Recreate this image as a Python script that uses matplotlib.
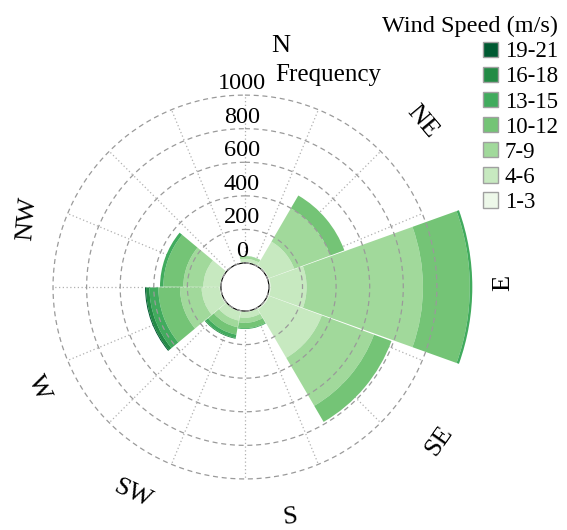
import numpy as np
import matplotlib.pyplot as plt
import matplotlib.transforms as mtransforms
from matplotlib.patches import Patch

plt.rcParams['font.family'] = ['Liberation Serif', 'DejaVu Serif']

# wind directions (9 bins of 40 deg, the last one empty) and speed classes
directions = ['N', 'NE', 'E', 'SE', 'S', 'SW', 'W', 'NW']
speed_classes = ['1-3', '4-6', '7-9', '10-12', '13-15', '16-18', '19-21']
colors = ['#edf8e9', '#c7e9c0', '#a1d99b', '#74c476', '#41ab5d', '#238b45', '#005a32']

# frequency per direction for each speed class
freq_1_3 = [5, 8, 10, 10, 5, 5, 8, 6]
freq_4_6 = [20, 162, 214, 335, 35, 55, 107, 99]
freq_7_9 = [15, 230, 693, 331, 30, 40, 129, 119]
freq_10_12 = [2, 88, 279, 111, 32, 45, 129, 119]
freq_13_15 = [0, 0, 15, 0, 5, 20, 53, 20]
freq_16_18 = [0, 0, 0, 0, 0, 5, 20, 0]
freq_19_21 = [0, 0, 0, 0, 0, 0, 6, 0]
freqs = [freq_1_3, freq_4_6, freq_7_9, freq_10_12, freq_13_15, freq_16_18, freq_19_21]

rticks = [0, 200, 400, 600, 800, 1000]

fig = plt.figure(figsize=(5.67, 5.30), dpi=100)
ax = fig.add_axes([0.0935, 0.0962, 0.677, 0.7245], projection='polar')
ax.set_theta_zero_location('N')
ax.set_theta_direction(-1)
ax.set_ylim(0, 1000)
ax.set_rorigin(-143)
ax.spines['polar'].set_visible(False)

# dotted spokes every 22.5 deg, below the bars
ax.set_xticks(np.deg2rad(np.arange(0, 360, 22.5)))
ax.set_xticklabels([])
ax.set_yticks([])
ax.xaxis.grid(True, linestyle=(0, (1, 2)), color='#b0b0b0', linewidth=0.9)

theta = np.deg2rad(10 + 40 * np.arange(len(directions)))
width = np.deg2rad(39.5)
bottom = np.zeros(len(directions))
for vals, c in zip(freqs, colors):
    vals = np.array(vals, dtype=float)
    ax.bar(theta, vals, width=width, bottom=bottom, color=c, linewidth=0,
           clip_on=False, zorder=2)
    bottom += vals

# dashed range rings drawn over the bars
ring = np.linspace(0, 2 * np.pi, 361)
for r in rticks:
    ax.plot(ring, np.full_like(ring, r), color='#9a9a9a', lw=0.9,
            linestyle=(0, (4, 3)), zorder=3, clip_on=False)

lab_tr = mtransforms.offset_copy(ax.transData, fig=fig, x=-3, y=1, units='dots')
for r in rticks:
    ax.text(0, r, str(r), transform=lab_tr, ha='center', va='bottom', fontsize=17.5)

# compass labels: angle (deg), distance from centre (px), rotation
lab_ang = [8.5, 47, 89, 128.5, 169, 208.5, 244, 287.5]
lab_px = [244, 243, 258, 248, 235, 235, 230, 228]
lab_rot = [0, -50, 90, 55, 6, -25, -65, 85]
for a, d, px, rot in zip(lab_ang, directions, lab_px, lab_rot):
    ax.text(np.deg2rad(a), (px - 24) / 0.168, d, ha='center', va='center',
            rotation=rot, rotation_mode='anchor', fontsize=19, clip_on=False)

fig.text(0.485, 0.858, 'Frequency', ha='left', va='center', fontsize=18)

handles = [Patch(facecolor=c, edgecolor='#a0a0a0', linewidth=1, label=s)
           for s, c in zip(speed_classes, colors)][::-1]
fig.legend(handles=handles, loc='upper right', bbox_to_anchor=(1.012, 1.0),
           frameon=False, title='Wind Speed (m/s)', fontsize=16.5,
           title_fontsize=17.5, handlelength=0.65, handleheight=0.65,
           handletextpad=0.3, labelspacing=0.18, borderaxespad=0.3,
           alignment='right')

fig.savefig('out.png', dpi=100)
